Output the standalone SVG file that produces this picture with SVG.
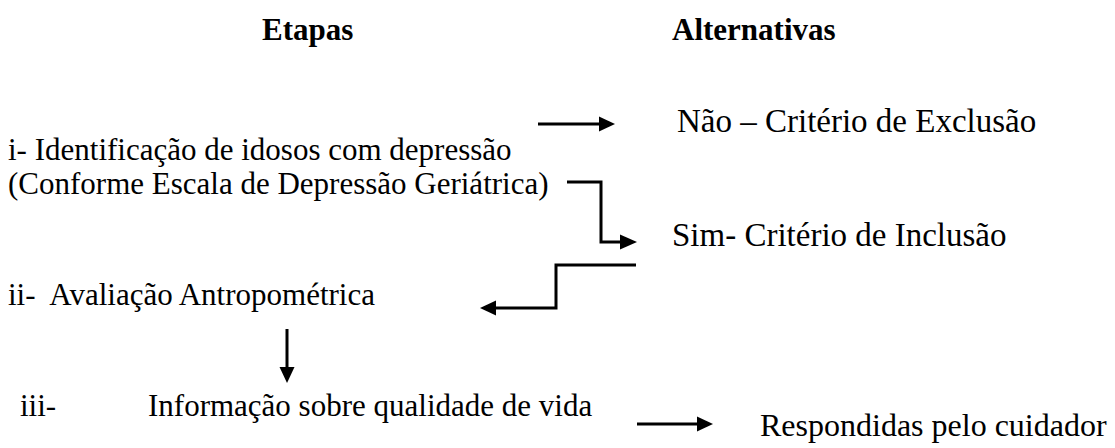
<svg xmlns="http://www.w3.org/2000/svg" width="1115" height="448" viewBox="0 0 1115 448">
<rect width="1115" height="448" fill="#fff"/>
<g id="step1">
<text x="8" y="160" style="font-family:'Times New Roman','Liberation Serif',serif;font-size:31px">i- Identificação de idosos com depressão</text>
<text x="8" y="194" style="font-family:'Times New Roman','Liberation Serif',serif;font-size:31px">(Conforme Escala de Depressão Geriátrica)</text>
</g>
<g id="alt-nao"><text x="677" y="132" style="font-family:'Times New Roman','Liberation Serif',serif;font-size:33px">Não – Critério de Exclusão</text></g>
<g id="alt-sim"><text x="672" y="246" style="font-family:'Times New Roman','Liberation Serif',serif;font-size:33px">Sim- Critério de Inclusão</text></g>
<g id="step2"><text x="8" y="305" xml:space="preserve" style="font-family:'Times New Roman','Liberation Serif',serif;font-size:31px">ii-  Avaliação Antropométrica</text></g>
<g id="step3">
<text x="20" y="416" style="font-family:'Times New Roman','Liberation Serif',serif;font-size:31px">iii-</text>
<text x="148" y="416" style="font-family:'Times New Roman','Liberation Serif',serif;font-size:31px">Informação sobre qualidade de vida</text>
</g>
<g id="alt-cuidador"><text x="760" y="436" style="font-family:'Times New Roman','Liberation Serif',serif;font-size:32px">Respondidas pelo cuidador</text></g>
<g id="header-etapas"><text x="262" y="40" style="font-family:'Times New Roman','Liberation Serif',serif;font-size:31px;font-weight:bold">Etapas</text></g>
<g id="header-alternativas"><text x="672" y="40" style="font-family:'Times New Roman','Liberation Serif',serif;font-size:31px;font-weight:bold">Alternativas</text></g>
<g id="connectors">
<g fill="none" stroke="#000" stroke-width="3">
<path d="M538,124 H600"/>
<path d="M567,182 H601 V242 H621"/>
<path d="M636,265 H556 V308 H495"/>
<path d="M287,329 V368"/>
<path d="M637,424 H698"/>
</g>
<g fill="#000">
<polygon points="599,116.5 615,124 599,131.5"/>
<polygon points="620,234.5 637,242 620,249.5"/>
<polygon points="496,300.5 480,308 496,315.5"/>
<polygon points="279.5,367 294.5,367 287,383"/>
<polygon points="697,416.5 713,424 697,431.5"/>
</g>
</g>
</svg>
